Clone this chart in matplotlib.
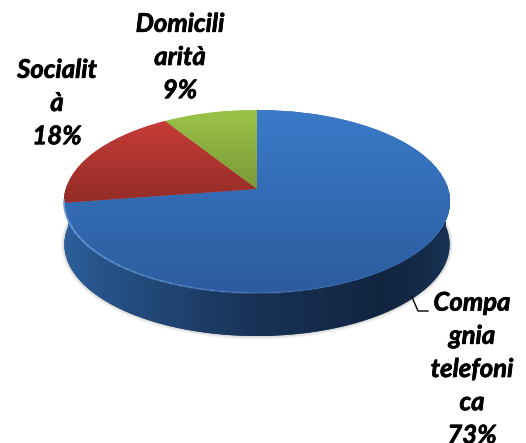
import numpy as np
import matplotlib
matplotlib.use("Agg")
import matplotlib.pyplot as plt
import matplotlib.patheffects as pe
from matplotlib.transforms import Transform
from matplotlib.patches import Polygon

# ---- data ----
categories = ["Compagnia telefonica", "Socialità", "Domiciliarità"]
values = [72.6, 18.4, 9.0]
wrapped_names = ["Compa\ngnia\ntelefoni\nca", "Socialit\nà", "Domicili\narità"]

# ---- style ----
W, H = 526, 443
top_colors = [(58, 122, 200), (200, 60, 56), (156, 196, 74)]
low_colors = [(44, 92, 158), (146, 44, 40), (122, 152, 54)]
grad_spans = [(110, 295), (118, 206), (110, 189)]
label_pos = [(472, 369), (57, 103), (180, 57)]
CX, CY, A, B, K = 257.0, 189.0, 191.2, 89.8, 0.1366
DEPTH = 43


class Perspective(Transform):
    input_dims = output_dims = 2
    is_affine = False
    has_inverse = False

    def __init__(self, dy=0.0):
        super().__init__()
        self.dy = dy

    def transform_non_affine(self, values):
        v = np.asarray(values, float)
        d = 1 + K * v[:, 1]
        return np.column_stack([CX + A * v[:, 0] / d, CY + self.dy - B * v[:, 1] / d])


fig = plt.figure(figsize=(W / 100, H / 100), dpi=100)
ax = fig.add_axes([0, 0, 1, 1])
wedges, _ = ax.pie(values, startangle=90, counterclock=False,
                   colors=[tuple(c / 255 for c in col) for col in top_colors])
persp = Perspective()
for w in wedges:
    w.set_transform(persp + ax.transData)
    w.set_zorder(5)
    w.set_linewidth(0)

# vertical shading inside each slice
for w, c0, c1, (y0, y1) in zip(wedges, top_colors, low_colors, grad_spans):
    t = np.linspace(0, 1, 256)[:, None, None]
    img = (np.array(c0)[None, None, :] * (1 - t) + np.array(c1)[None, None, :] * t) / 255
    im = ax.imshow(img, extent=(40, 470, y1, y0), aspect="auto", zorder=6,
                   interpolation="bilinear")
    im.set_clip_path(w)

# cylinder side
th = np.linspace(np.pi * 0.98, np.pi * 2.02, 200)
circle = np.column_stack([np.cos(th), np.sin(th)])
lower = Perspective(DEPTH).transform(circle)
lower[:, 0] = CX + (lower[:, 0] - CX) * 0.998
upper = persp.transform(circle[::-1])
side = Polygon(np.vstack([lower, upper]), closed=True, transform=ax.transData,
               facecolor=(0.1, 0.2, 0.35), edgecolor="none", zorder=2)
ax.add_patch(side)
xs = np.linspace(60, 452, 400)
stops_x = [64, 100, 160, 257, 380, 420, 450]
stops_c = np.array([(46, 96, 156), (38, 84, 138), (33, 70, 116), (24, 50, 86),
                    (17, 37, 64), (20, 42, 72), (24, 50, 84)])
grad = np.stack([np.interp(xs, stops_x, stops_c[:, i]) for i in range(3)], axis=-1)[None, :, :] / 255
sim = ax.imshow(grad, extent=(60, 452, 345, 190), aspect="auto", zorder=3, interpolation="bilinear")
sim.set_clip_path(side)

# soft shadow under the side
for lw, al in [(5, 0.05), (3.5, 0.07), (2, 0.10)]:
    ax.plot(lower[:, 0], lower[:, 1], color="#555555", lw=lw, alpha=al, zorder=1,
            solid_capstyle="round")

# rim highlight on the front edge of the top surface
th2 = np.linspace(np.radians(187), np.radians(300), 120)
rim = persp.transform(np.column_stack([np.cos(th2), np.sin(th2)]))
n = len(rim)
for i in range(0, n - 1, 3):
    ax.plot(rim[i:i + 4, 0], rim[i:i + 4, 1], color="#6FA0DC", lw=1.3,
            alpha=0.85 * (1 - i / n), zorder=7)

# leader line
ax.plot([412, 418, 428], [297, 311, 311], color="black", lw=1.0, zorder=8)

# labels
for name, val, (x, y) in zip(wrapped_names, values, label_pos):
    ax.text(x, y, f"{name}\n{val:.0f}%", ha="center", va="center", multialignment="center",
            family="Lato", style="italic", weight="bold", fontsize=18.5,
            linespacing=1.46, color="black", zorder=9,
            path_effects=[pe.withStroke(linewidth=0.5, foreground="black")])

ax.set_xlim(0, W)
ax.set_ylim(H, 0)
ax.set_aspect("auto")
ax.axis("off")
fig.savefig("out.png", dpi=100)
